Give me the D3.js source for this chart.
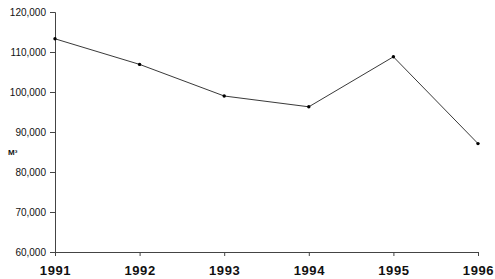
<!DOCTYPE html>
<html>
<head>
<meta charset="utf-8">
<script src="https://cdn.jsdelivr.net/npm/d3@7"></script>
<style>
body { margin: 0; background: #fff; }
</style>
</head>
<body>
<div id="the_chart"></div>
<script>
var years = [1991, 1992, 1993, 1994, 1995, 1996];
var volumes = [113300, 106900, 99000, 96300, 108800, 87100];
var yticks = [60000, 70000, 80000, 90000, 100000, 110000, 120000];

var w = 495, h = 279;
var padLeft = 55, padRight = 478, padTop = 12, padBottom = 252;

var xscale = d3.scaleLinear()
    .domain([1991, 1996])
    .range([padLeft, padRight]);
var yscale = d3.scaleLinear()
    .domain([60000, 120000])
    .range([padBottom, padTop]);

var svg = d3.select("#the_chart").append("svg")
    .attr("width", w)
    .attr("height", h);

var yaxis = d3.axisLeft(yscale)
    .tickValues(yticks)
    .tickSize(5)
    .tickPadding(4)
    .tickFormat(d3.format(","));
var gy = svg.append("g")
    .attr("transform", "translate(" + padLeft + ",0)")
    .call(yaxis);
gy.selectAll("text")
    .attr("font-family", "Liberation Sans, Arial, sans-serif")
    .attr("font-size", 10)
    .attr("fill", "#111");

var xaxis = d3.axisBottom(xscale)
    .tickValues(years)
    .tickSize(4)
    .tickPadding(10)
    .tickFormat(d3.format("d"));
var gx = svg.append("g")
    .attr("transform", "translate(0," + padBottom + ")")
    .call(xaxis);
gx.selectAll("text")
    .attr("font-family", "Liberation Sans, Arial, sans-serif")
    .attr("font-size", 13)
    .attr("font-weight", "bold")
    .attr("letter-spacing", 0.6)
    .attr("fill", "#111");

svg.selectAll(".domain").attr("stroke", "#444");
svg.selectAll(".tick line").attr("stroke", "#444");

svg.append("text")
    .attr("x", 8)
    .attr("y", 155)
    .attr("font-family", "Liberation Sans, Arial, sans-serif")
    .attr("font-size", 8)
    .attr("font-weight", "bold")
    .attr("fill", "#111")
    .text("M³");

var line = d3.line()
    .x(function(d, i) { return xscale(years[i]); })
    .y(function(d) { return yscale(d); });

svg.append("path")
    .datum(volumes)
    .attr("d", line)
    .attr("fill", "none")
    .attr("stroke", "#222")
    .attr("stroke-width", 0.9);

svg.selectAll("circle")
    .data(volumes)
    .enter().append("circle")
    .attr("cx", function(d, i) { return xscale(years[i]); })
    .attr("cy", function(d) { return yscale(d); })
    .attr("r", 1.7)
    .attr("fill", "#000");
</script>
</body>
</html>
